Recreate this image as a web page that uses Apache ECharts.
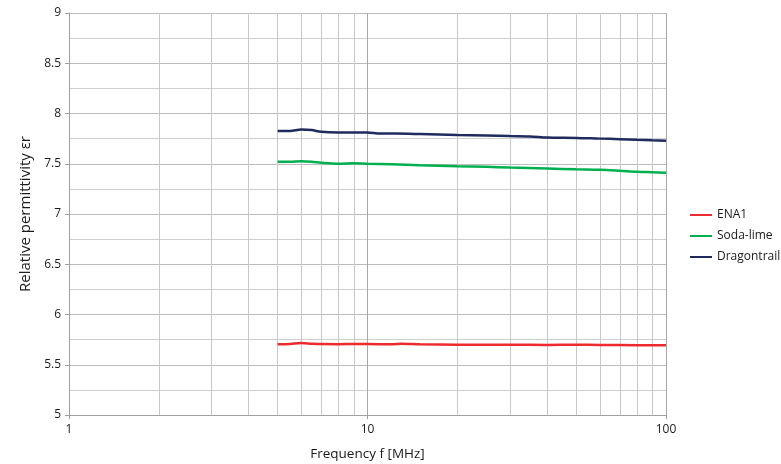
<!DOCTYPE html>
<html><head><meta charset="utf-8">
<script src="https://cdn.jsdelivr.net/npm/echarts@6/dist/echarts.min.js"></script>
<style>html,body{margin:0;padding:0;background:#fff}#c{width:781px;height:464px}</style>
</head><body><div id="c"></div>
<script>
const seriesNames = ['ENA1', 'Soda-lime', 'Dragontrail'];
const seriesColors = ['#ee2a2e', '#00b050', '#1f2a5e'];
const freqENA1 = [5, 5.5, 6, 6.5, 7, 8, 9, 10, 12, 13, 15, 20, 30, 40, 50, 60, 80, 100];
const valENA1 = [5.705, 5.707, 5.716, 5.71, 5.706, 5.705, 5.707, 5.707, 5.703, 5.708, 5.703, 5.7, 5.7, 5.697, 5.699, 5.697, 5.695, 5.693];
const freqSoda = [5, 5.5, 6, 6.5, 7, 8, 9, 10, 12, 15, 20, 25, 30, 40, 50, 60, 70, 80, 90, 100];
const valSoda = [7.52, 7.52, 7.525, 7.52, 7.51, 7.5, 7.505, 7.5, 7.495, 7.485, 7.475, 7.47, 7.462, 7.452, 7.445, 7.44, 7.43, 7.42, 7.415, 7.41];
const freqDragon = [5, 5.5, 6, 6.5, 7, 8, 9, 10, 11, 12.5, 15, 20, 25, 30, 35, 40, 50, 60, 70, 80, 90, 100];
const valDragon = [7.826, 7.826, 7.84, 7.835, 7.818, 7.812, 7.812, 7.812, 7.8, 7.8, 7.795, 7.785, 7.78, 7.775, 7.772, 7.76, 7.757, 7.75, 7.745, 7.738, 7.733, 7.73];
const minorFreqs = [2, 3, 4, 5, 6, 7, 8, 9, 20, 30, 40, 50, 60, 70, 80, 90];
const xTicks = [1, 10, 100];
const yTicks = [5, 5.5, 6, 6.5, 7, 7.5, 8, 8.5, 9];

const pairs = (xs, ys) => xs.map((x, i) => [x, ys[i]]);
const dataSets = [pairs(freqENA1, valENA1), pairs(freqSoda, valSoda), pairs(freqDragon, valDragon)];
const font = '"Open Sans", "Liberation Sans", sans-serif';

const series = seriesNames.map((n, i) => ({
  name: n, type: 'line', data: dataSets[i], showSymbol: false, smooth: 0.3,
  lineStyle: { color: seriesColors[i], width: 2.5 }, itemStyle: { color: seriesColors[i] }, z: 5
}));
series[0].markLine = {
  silent: true, symbol: 'none', label: { show: false }, animation: false,
  lineStyle: { color: '#c9c9c9', width: 1, type: 'solid' },
  data: minorFreqs.map(f => ({ xAxis: f }))
};

const chart = echarts.init(document.getElementById('c'));
chart.setOption({
  animation: false,
  grid: { left: 69, right: 115, top: 13, bottom: 49, containLabel: false, outerBoundsMode: 'none' },
  legend: {
    orient: 'vertical', left: 685, top: 204, itemGap: 9,
    itemWidth: 22, itemHeight: 2, icon: 'rect',
    textStyle: { fontFamily: font, fontSize: 12, color: '#1a1a1a' },
    data: seriesNames
  },
  xAxis: {
    type: 'log', logBase: 10, min: 1, max: 100,
    name: 'Frequency f [MHz]', nameLocation: 'middle', nameGap: 32,
    nameTextStyle: { fontFamily: font, fontSize: 13.5, color: '#1a1a1a' },
    axisLine: { lineStyle: { color: '#a0a0a0' } },
    axisTick: { show: true, length: 4, lineStyle: { color: '#a0a0a0' } },
    axisLabel: { fontFamily: font, fontSize: 12, color: '#1a1a1a', margin: 9 },
    splitLine: { show: true, lineStyle: { color: '#a8a8a8', width: 1 } }
  },
  yAxis: {
    type: 'value', min: 5, max: 9, interval: 0.5,
    name: 'Relative permittivity εr', nameLocation: 'middle', nameGap: 28,
    nameTextStyle: { fontFamily: font, fontSize: 15, color: '#1a1a1a' },
    axisLine: { show: true, lineStyle: { color: '#a0a0a0' } },
    axisTick: { show: true, length: 4, lineStyle: { color: '#a0a0a0' } },
    axisLabel: { fontFamily: font, fontSize: 12, color: '#1a1a1a', margin: 8 },
    splitLine: { show: true, lineStyle: { color: '#bcbcbc', width: 1 } },
    minorTick: { show: false, splitNumber: 2 },
    minorSplitLine: { show: true, lineStyle: { color: '#cfcfcf', width: 1 } }
  },
  series: series
});
</script></body></html>
